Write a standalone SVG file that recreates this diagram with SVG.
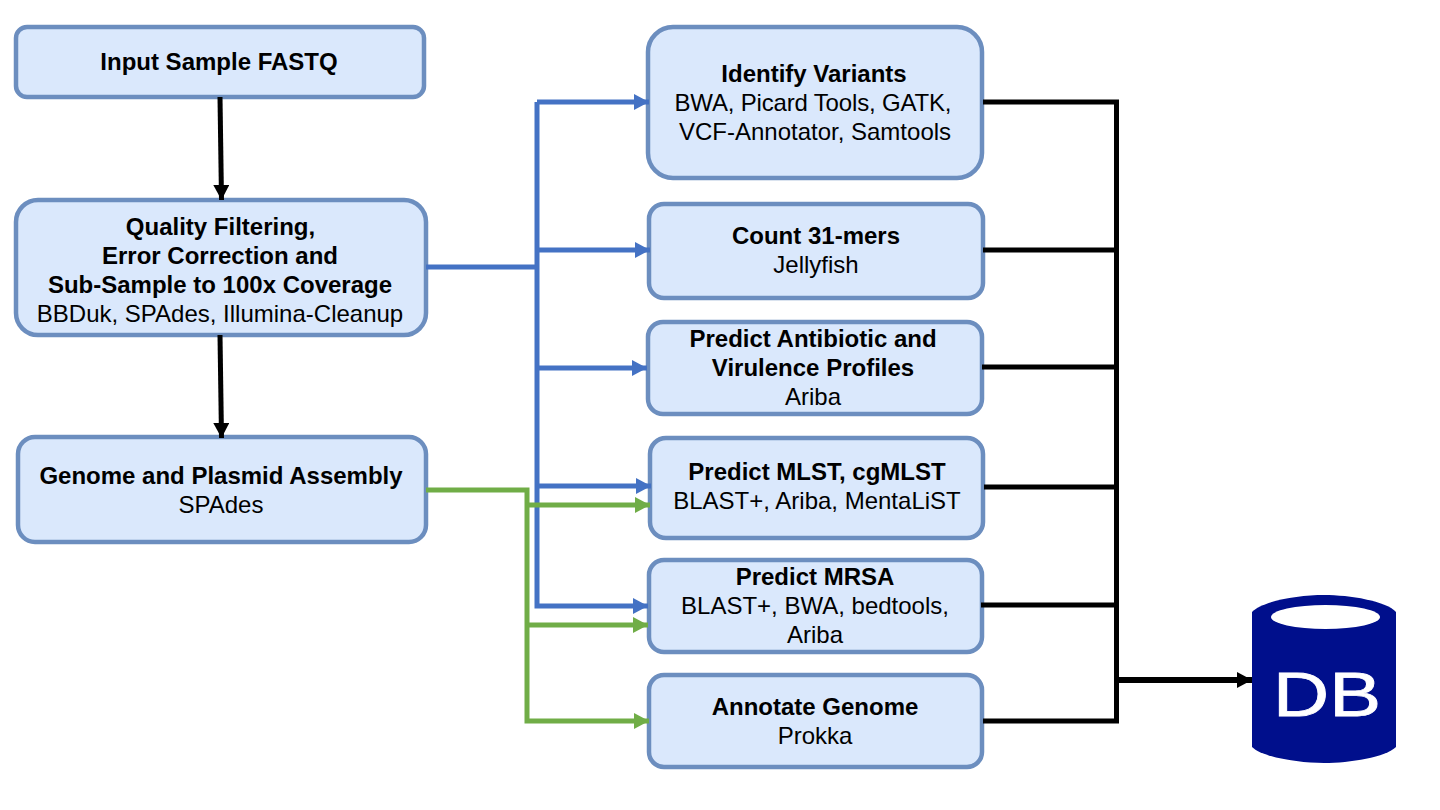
<svg xmlns="http://www.w3.org/2000/svg" width="1440" height="810" viewBox="0 0 1440 810">
<style>
.n{fill:#dae8fc;stroke:#6c8ebf;stroke-width:4.500}
text{font-family:"Liberation Sans",Arial,sans-serif;font-size:24px;fill:#000;text-anchor:middle}
.b{font-weight:bold}
.c{fill:none;stroke-width:5;stroke-linejoin:miter}
.k{stroke:#000}.u{stroke:#4472c4}.g{stroke:#70ad47}
.t{stroke-width:6}
</style>
<defs>
<marker id="ak" markerUnits="userSpaceOnUse" markerWidth="16" markerHeight="16" refX="15" refY="8" orient="auto"><path d="M0 0L15 8L0 16z" fill="#000"/></marker>
<marker id="au" markerUnits="userSpaceOnUse" markerWidth="16" markerHeight="16" refX="15" refY="8" orient="auto"><path d="M0 0L15 8L0 16z" fill="#4472c4"/></marker>
<marker id="ag" markerUnits="userSpaceOnUse" markerWidth="16" markerHeight="16" refX="15" refY="8" orient="auto"><path d="M0 0L15 8L0 16z" fill="#70ad47"/></marker>
</defs>
<g id="input"><rect class="n" x="16" y="27" width="408" height="70" rx="11"/><text class="b" x="219" y="70">Input Sample FASTQ</text></g>
<g id="quality"><rect class="n" x="16" y="200" width="410" height="135" rx="22"/><text class="b" x="220.500" y="235">Quality Filtering,</text><text class="b" x="220" y="264">Error Correction and</text><text class="b" x="220" y="293">Sub-Sample to 100x Coverage</text><text x="220" y="322">BBDuk, SPAdes, Illumina-Cleanup</text></g>
<g id="assembly"><rect class="n" x="18" y="437" width="408" height="105" rx="17"/><text class="b" x="221" y="484">Genome and Plasmid Assembly</text><text x="221" y="513">SPAdes</text></g>
<g id="variants"><rect class="n" x="648" y="27" width="334" height="151" rx="25"/><text class="b" x="814" y="82">Identify Variants</text><text x="813" y="111" textLength="277" lengthAdjust="spacing">BWA, Picard Tools, GATK,</text><text x="815" y="140">VCF-Annotator, Samtools</text></g>
<g id="kmers"><rect class="n" x="649" y="204" width="334" height="94" rx="15"/><text class="b" x="816" y="244">Count 31-mers</text><text x="816" y="273">Jellyfish</text></g>
<g id="antibiotic"><rect class="n" x="648" y="322" width="334" height="92" rx="15"/><text class="b" x="813" y="347">Predict Antibiotic and</text><text class="b" x="813" y="376">Virulence Profiles</text><text x="813" y="405">Ariba</text></g>
<g id="mlst"><rect class="n" x="650" y="438" width="333" height="100" rx="16"/><text class="b" x="817" y="480">Predict MLST, cgMLST</text><text x="817" y="509">BLAST+, Ariba, MentaLiST</text></g>
<g id="mrsa"><rect class="n" x="649" y="560" width="333" height="92" rx="15"/><text class="b" x="815" y="585">Predict MRSA</text><text x="815" y="614">BLAST+, BWA, bedtools,</text><text x="815" y="643">Ariba</text></g>
<g id="annotate"><rect class="n" x="649" y="675" width="333" height="92" rx="15"/><text class="b" x="815" y="715">Annotate Genome</text><text x="815" y="744">Prokka</text></g>
<g id="db">
<path d="M1252 612C1262 601 1298 595 1324 595S1386 601 1396 612V747C1386 757 1350 763 1324 763S1262 757 1252 747Z" fill="#000f8c"/>
<ellipse cx="1325.500" cy="617" rx="54.500" ry="12" fill="#fff"/>
<text x="1327" y="716" textLength="108" lengthAdjust="spacingAndGlyphs" style="font-size:63px;fill:#fff;stroke:#fff;stroke-width:.8">DB</text>
</g>
<g id="connectors">
<path class="c k" d="M220 97L221.500 200" marker-end="url(#ak)"/>
<path class="c k" d="M220 335L221.500 438" marker-end="url(#ak)"/>
<path class="c u" d="M426 267H537"/>
<path class="c u" d="M537 102V606H648" marker-end="url(#au)"/>
<path class="c u" d="M537 102H649" marker-end="url(#au)"/>
<path class="c u" d="M537 250H650" marker-end="url(#au)"/>
<path class="c u" d="M537 368H647" marker-end="url(#au)"/>
<path class="c u" d="M537 486H651" marker-end="url(#au)"/>
<path class="c g" d="M426 490H527V721H649" marker-end="url(#ag)"/>
<path class="c g" d="M527 505H650" marker-end="url(#ag)"/>
<path class="c g" d="M527 625H648" marker-end="url(#ag)"/>
<path class="c k" d="M983 102H1116.500V721H983"/>
<path class="c k" d="M983 250H1116.500M982 367H1116.500M984 487H1116.500M981 605H1116.500"/>
<path class="c k t" d="M1116.500 680H1252" marker-end="url(#ak)"/>
</g>
</svg>
